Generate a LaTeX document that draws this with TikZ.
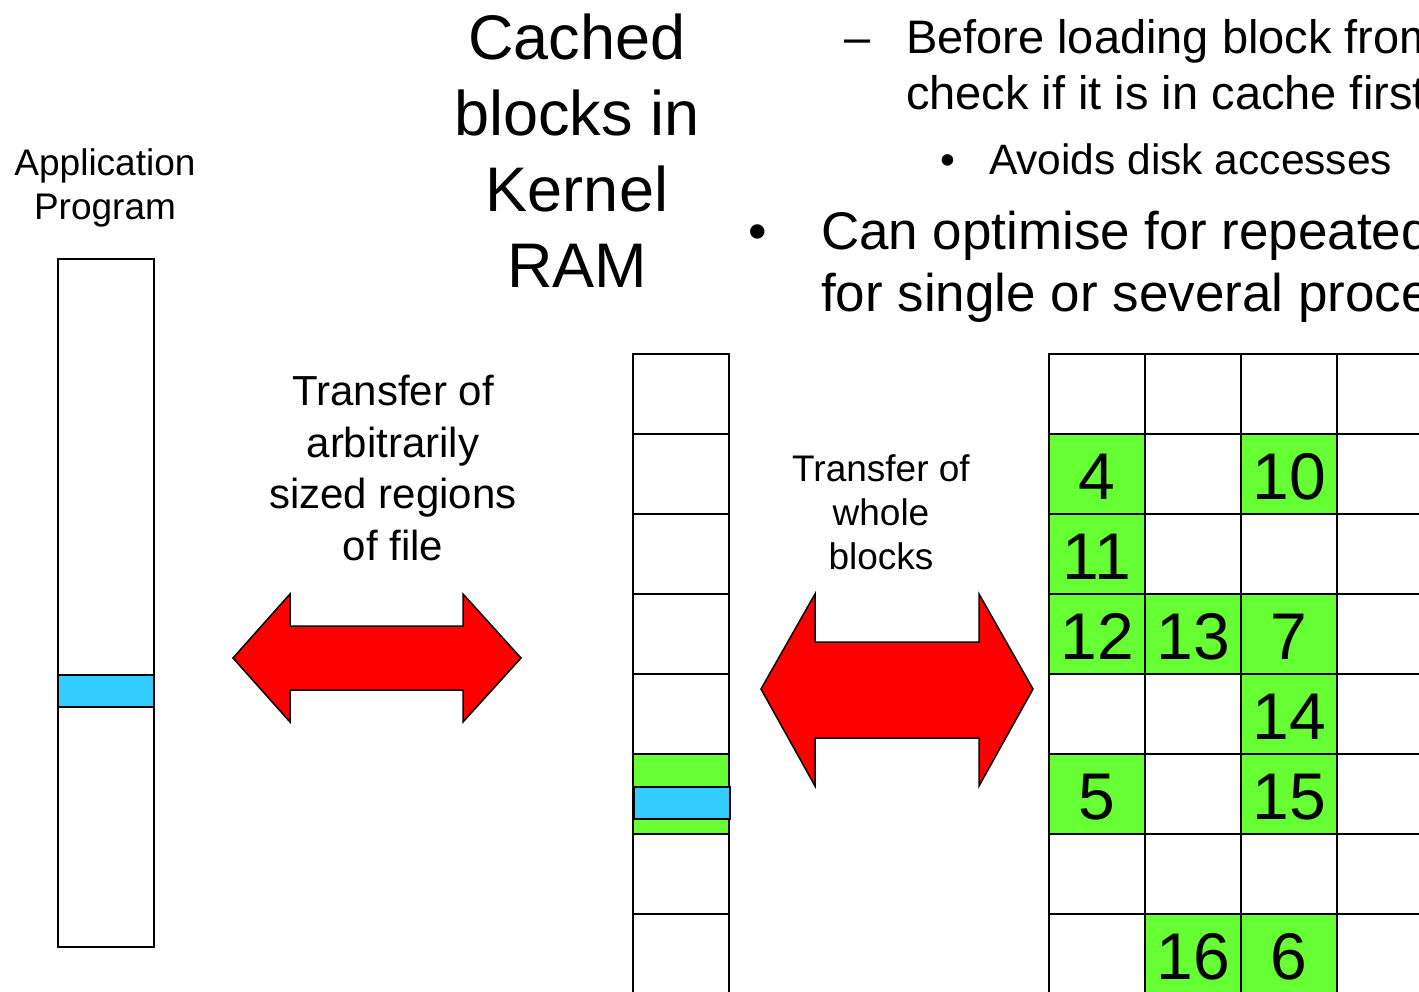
\documentclass[tikz,border=0pt]{standalone}
\usepackage{fontspec}
\setmainfont{Liberation Sans}
\definecolor{cachegreen}{RGB}{102,255,51}
\definecolor{bufblue}{RGB}{51,204,255}
\definecolor{transred}{RGB}{255,0,0}
\newcommand{\fsz}[1]{\fontsize{#1}{1.2\dimexpr#1pt\relax}\selectfont}
\begin{document}
\begin{tikzpicture}[x=1pt,y=-1pt,
  blockcell/.style={draw,line width=2pt,minimum width=96pt,minimum height=80pt,
    inner sep=0pt,outer sep=0pt,anchor=north west},
  hitcell/.style={blockcell,fill=cachegreen},
  digit/.style={font=\fsz{66}},
  txt/.style={inner sep=0pt,outer sep=0pt,anchor=base},
  txtl/.style={inner sep=0pt,outer sep=0pt,anchor=base west},
  bigarrow/.style={fill=transred,draw=black,line width=1.5pt,line join=miter}
]
\useasboundingbox (0,0) rectangle (1419,992);
\clip (0,0) rectangle (1419,992);

% application buffer
\node[draw,line width=2pt,minimum width=96pt,minimum height=688pt,inner sep=0pt,
      anchor=north west] (appbuf) at (57,258) {};
\node[draw,line width=2pt,fill=bufblue,minimum width=96pt,minimum height=32pt,
      inner sep=0pt,anchor=north west] (appreg) at (57,674) {};
\node[txt,font=\fsz{37}] (applbl1) at (105,176) {Application};
\node[txt,font=\fsz{37}] (applbl2) at (105,220) {Program};

% kernel buffer cache column
\foreach \r in {0,...,7} {
  \node[blockcell] (k\r) at (633,354+80*\r) {};
}
\node[hitcell] (khit) at (633,754) {};
\node[draw,line width=2pt,fill=bufblue,minimum width=96pt,minimum height=32pt,
      inner sep=0pt,anchor=north west] (kreg) at (633,786) {};
\node[txt,font=\fsz{63}] (klbl1) at (577,60) {Cached};
\node[txt,font=\fsz{63}] (klbl2) at (577,136) {blocks in};
\node[txt,font=\fsz{63}] (klbl3) at (577,212) {Kernel};
\node[txt,font=\fsz{63}] (klbl4) at (577,288) {RAM};

% disk blocks
\foreach \c in {0,...,3} {
  \foreach \r in {0,...,7} {
    \node[blockcell] (d\r\c) at (1049+96*\c,354+80*\r) {};
  }
}
\foreach \r/\c/\n in {1/0/4,1/2/10,2/0/11,3/0/12,3/1/13,3/2/7,4/2/14,5/0/5,5/2/15,7/1/16,7/2/6} {
  \node[hitcell] (h\r\c) at (1049+96*\c,354+80*\r) {};
  \node[txt,digit] (n\r\c) at (1097+96*\c,419+80*\r) {\n};
}

% transfer arrows
\draw[bigarrow] (233,658) -- (290,594) -- (290,626) -- (463,626) -- (463,594)
  -- (521,658) -- (463,722) -- (463,690) -- (290,690) -- (290,722) -- cycle;
\draw[bigarrow] (761,689) -- (815,594) -- (815,642) -- (979,642) -- (979,594)
  -- (1033,689) -- (979,786) -- (979,738) -- (815,738) -- (815,786) -- cycle;

\node[txt,font=\fsz{42}] (t1a) at (393,405) {Transfer of};
\node[txt,font=\fsz{42}] (t1b) at (393,457) {arbitrarily};
\node[txt,font=\fsz{42}] (t1c) at (393,508) {sized regions};
\node[txt,font=\fsz{42}] (t1d) at (393,560) {of file};

\node[txt,font=\fsz{37}] (t2a) at (881,481) {Transfer of};
\node[txt,font=\fsz{37}] (t2b) at (881,525) {whole};
\node[txt,font=\fsz{37}] (t2c) at (881,569) {blocks};

% bullet text
\node[txtl,font=\fsz{47}] (dash1) at (844,54) {–};
\node[txtl,font=\fsz{47}] (b1a) at (906,54) {Before loading block from};
\node[txtl,font=\fsz{47}] (b1b) at (906,110) {check if it is in cache first};
\node[txt,font=\fsz{42.5}] (dot2) at (948,175) {•};
\node[txtl,font=\fsz{42.5}] (b2) at (989,175) {Avoids disk accesses};
\node[txt,font=\fsz{53}] (dot3) at (758,250) {•};
\node[txtl,font=\fsz{53}] (b3a) at (821,250) {Can optimise for repeated};
\node[txtl,font=\fsz{53}] (b3b) at (821,312) {for single or several processes};
\end{tikzpicture}
\end{document}
